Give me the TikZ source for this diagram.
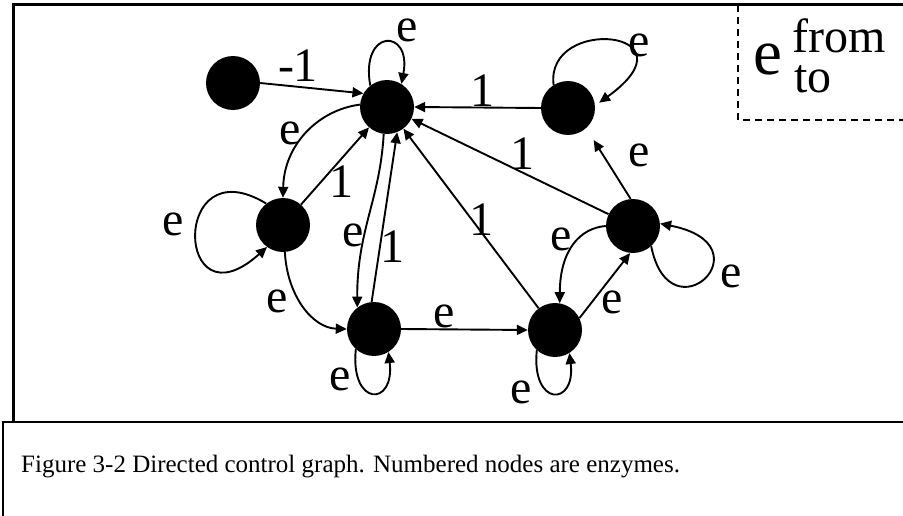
\documentclass[tikz,border=0pt]{standalone}
\usepackage{fontspec}
\setmainfont{Liberation Serif}
\usetikzlibrary{arrows.meta}
\begin{document}
\begin{tikzpicture}[x=1pt,y=-1pt,
  enz/.style={circle,fill=black,minimum size=54pt,inner sep=0pt},
  arr/.style={line width=1.9pt,-{Triangle[length=11pt,width=10pt]}},
  lbl/.style={font=\fontsize{48}{48}\selectfont,inner sep=0pt,anchor=base},
  frameline/.style={line width=3pt},
  legdash/.style={line width=2pt,dash pattern=on 7pt off 5pt}]
\useasboundingbox (0,0) rectangle (903,516);
% frames
\draw[frameline] (903,4.5) -- (13.5,4.5) -- (13.5,422);
\draw[line width=2.5pt] (903,422) -- (3,422) -- (3,516);
\draw[legdash] (738,5) -- (738,120) -- (903,120);
% nodes
\node[enz] (n0) at (233,83) {};
\node[enz] (n1) at (387,107) {};
\node[enz] (n2) at (568,108) {};
\node[enz] (n3) at (283,225) {};
\node[enz] (n4) at (374,329) {};
\node[enz] (n5) at (555,330) {};
\node[enz] (n6) at (633,226) {};
% straight edges
\draw[arr] (n0.east) -- (n1.150);
\draw[arr] (n2.west) -- (n1.east);
\draw[arr] (n6) -- (n1);
\draw[arr] (n5) -- (n1);
\draw[arr] (n3) -- (n1);
\draw[arr] (n4.95) -- (n1.-68);
\draw[arr] (n4.east) -- (n5.west);
\draw[arr] (n5.26) -- (n6.-96);
\draw[arr,shorten >=14pt] (n6.95) -- (n2.-48);
% curved edges
\draw[arr] (n1.-97) .. controls (380,200) and (357,230) .. (n4.128);
\draw[arr] (n1.175) .. controls (318,110) and (284,145) .. (n3.90);
\draw[arr] (n3.-86) .. controls (287,295) and (312,328) .. (n4.west);
\draw[arr] (n6.west) .. controls (580,228) and (560,250) .. (n5.80);
% self loops
\draw[arr] (n1.128) .. controls (360,28) and (412,28) .. (n1.58);
\draw[arr,shorten >=5pt] (n2.122) .. controls (545,15) and (700,30) .. (n2.5);
\draw[arr] (n3.128) .. controls (170,145) and (175,330) .. (n3.234);
\draw[arr] (n4.228) .. controls (350,407) and (395,407) .. (n4.-58);
\draw[arr] (n5.228) .. controls (531,407) and (576,407) .. (n5.-58);
\draw[arr] (n6.-48) .. controls (670,340) and (770,245) .. (n6.5);
% labels
\node[lbl] at (298,82) {-1};
\node[lbl] at (407,42) {e};
\node[lbl] at (482,107) {1};
\node[lbl] at (639,57) {e};
\node[lbl] at (639,167) {e};
\node[lbl] at (522,170) {1};
\node[lbl] at (290,145) {e};
\node[lbl] at (341,197) {1};
\node[lbl] at (481,235) {1};
\node[lbl] at (173,235) {e};
\node[lbl] at (353,247) {e};
\node[lbl] at (392,262) {1};
\node[lbl] at (277,312) {e};
\node[lbl] at (444,327) {e};
\node[lbl] at (340,390) {e};
\node[lbl] at (561,250) {e};
\node[lbl] at (612,313) {e};
\node[lbl] at (731,287) {e};
\node[lbl] at (521,403) {e};
% legend
\node[font=\fontsize{65}{65}\selectfont,anchor=base west,inner sep=0pt] at (753,75) {e};
\node[font=\fontsize{48}{48}\selectfont,anchor=base west,inner sep=0pt,text depth=0pt] at (792,53) {from};
\node[font=\fontsize{48}{48}\selectfont,anchor=base west,inner sep=0pt,text height=0.58em] at (794,93) {to};
% caption
\node[font=\fontsize{25}{25}\selectfont,anchor=base west,inner sep=0pt] at (21,472) {Figure 3-2 Directed control graph. Numbered nodes are enzymes.};
\end{tikzpicture}
\end{document}
